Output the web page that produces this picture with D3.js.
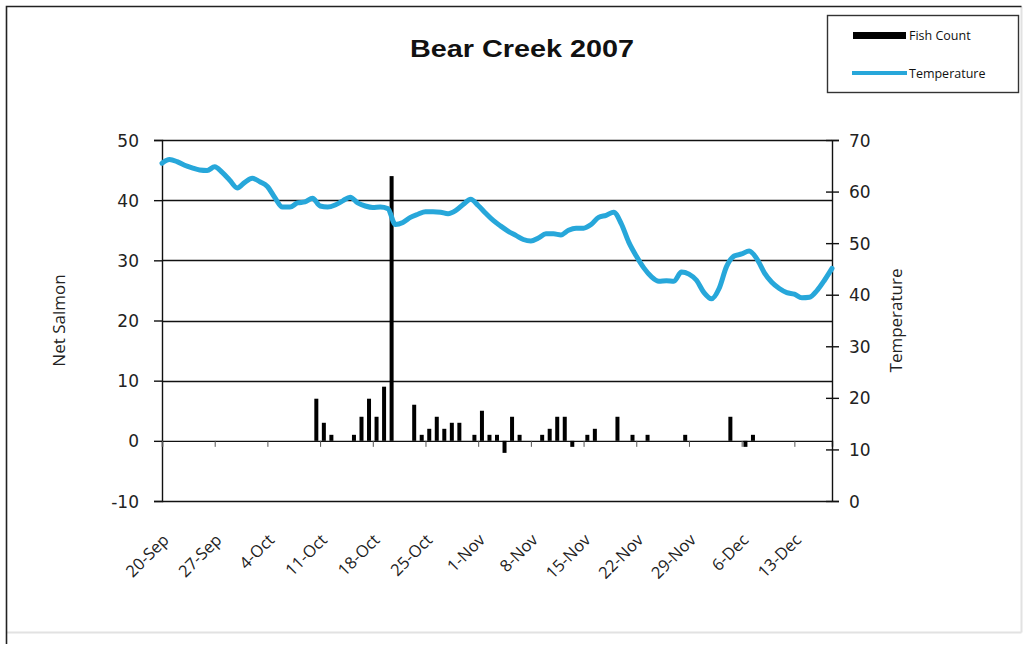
<!DOCTYPE html>
<html>
<head>
<meta charset="utf-8">
<script src="https://cdn.jsdelivr.net/npm/d3@7"></script>
<style>
  html, body { margin: 0; padding: 0; background: #fff; }
  svg { display: block; }
  text { font-family: "DejaVu Sans", Verdana, sans-serif; fill: #222; }
</style>
</head>
<body>
<svg id="chart" width="1026" height="645"></svg>
<script>
// Bear Creek 2007: daily net salmon count (columns) and water temperature (line)
const startDate = "2007-09-20";
const endDate = "2007-12-18";

// Net fish count by date (days without an entry are zero)
const countDates = [
  "2007-10-10", "2007-10-11", "2007-10-12", "2007-10-15", "2007-10-16", "2007-10-17",
  "2007-10-18", "2007-10-19", "2007-10-20", "2007-10-23", "2007-10-24", "2007-10-25",
  "2007-10-26", "2007-10-27", "2007-10-28", "2007-10-29", "2007-10-31", "2007-11-01",
  "2007-11-02", "2007-11-03", "2007-11-04", "2007-11-05", "2007-11-06", "2007-11-09",
  "2007-11-10", "2007-11-11", "2007-11-12", "2007-11-13", "2007-11-15", "2007-11-16",
  "2007-11-19", "2007-11-21", "2007-11-23", "2007-11-28", "2007-12-04", "2007-12-06",
  "2007-12-07"
];
const fishCount = [
  7, 3, 1, 1, 4, 7,
  4, 9, 44, 6, 1, 2,
  4, 2, 3, 3, 1, 5,
  1, 1, -2, 4, 1, 1,
  2, 4, 4, -1, 1, 2,
  4, 1, 1, 1, 4, -1,
  1
];

// Daily mean water temperature, one value per day from startDate
const temperature = [
  65.5, 66.2, 65.8, 65.1, 64.6, 64.2, 64.1, 64.8, 63.7, 62.2,
  60.7, 61.8, 62.6, 61.9, 61.0, 58.8, 57.0, 57.0, 57.8, 58.0,
  58.7, 57.2, 57.0, 57.4, 58.2, 58.9, 57.8, 57.2, 56.9, 57.0,
  56.7, 53.6, 54.0, 55.0, 55.6, 56.1, 56.1, 56.0, 55.7, 56.3,
  57.5, 58.5, 57.3, 55.8, 54.4, 53.3, 52.3, 51.5, 50.7, 50.4,
  51.0, 51.8, 51.8, 51.6, 52.5, 52.9, 52.9, 53.6, 55.0, 55.4,
  56.0, 53.8, 50.2, 47.5, 45.2, 43.5, 42.6, 42.7, 42.6, 44.4,
  44.0, 42.8, 40.4, 39.2, 41.2, 45.5, 47.5, 47.9, 48.5, 47.0,
  44.3, 42.4, 41.2, 40.4, 40.1, 39.4, 39.5, 40.8, 42.8, 45.1
];

const leftTicks = [-10, 0, 10, 20, 30, 40, 50];
const rightTicks = [0, 10, 20, 30, 40, 50, 60, 70];
const dateTickLabels = ["20-Sep", "27-Sep", "4-Oct", "11-Oct", "18-Oct", "25-Oct", "1-Nov",
  "8-Nov", "15-Nov", "22-Nov", "29-Nov", "6-Dec", "13-Dec"];

const titleText = "Bear Creek 2007";
const leftLabel = "Net Salmon";
const rightLabel = "Temperature";
const legendLabels = ["Fish Count", "Temperature"];

// ---------------------------------------------------------------------------
const parse = d3.utcParse("%Y-%m-%d");
const t0 = parse(startDate), t1 = parse(endDate);

const plot = { left: 162, right: 832, top: 140, bottom: 501 };
const lineColor = "#27a7da";
const labelFont = "'Open Sans', 'DejaVu Sans', sans-serif";

const svg = d3.select("#chart");

const x = d3.scaleUtc().domain([t0, t1]).range([plot.left, plot.right]);
const yL = d3.scaleLinear().domain([-10, 50]).range([plot.bottom, plot.top]);
const yR = d3.scaleLinear().domain([0, 70]).range([plot.bottom, plot.top]);
const dayW = x(d3.utcDay.offset(t0, 1)) - x(t0);

// chart frame
svg.append("rect").attr("x", 0).attr("y", 0).attr("width", 1026).attr("height", 645).attr("fill", "#fff");
svg.append("path").attr("d", "M1021.5,632.5 V6.5")
  .attr("fill", "none").attr("stroke", "#e2e2e2").attr("stroke-width", 2);
svg.append("line").attr("x1", 6.5).attr("x2", 1021.5).attr("y1", 632.5).attr("y2", 632.5)
  .attr("stroke", "#e2e2e2").attr("stroke-width", 2);
svg.append("path").attr("d", "M6.5,644 V6.5 H1021.5")
  .attr("fill", "none").attr("stroke", "#222").attr("stroke-width", 1.6);

// title
svg.append("text").attr("transform", "translate(522,57) scale(1.2,1)").attr("text-anchor", "middle")
  .style("font-family", "'Liberation Sans', Arial, sans-serif")
  .style("font-weight", "bold").style("font-size", "24px").style("fill", "#111")
  .text(titleText);

// horizontal gridlines on the left scale
svg.append("g").selectAll("line").data(leftTicks.filter(v => v !== 0)).join("line")
  .attr("x1", plot.left).attr("x2", plot.right)
  .attr("y1", d => Math.round(yL(d)) + 0.5).attr("y2", d => Math.round(yL(d)) + 0.5)
  .attr("stroke", "#111").attr("stroke-width", 1.4);

// left axis
const gL = svg.append("g").attr("transform", `translate(${plot.left},0)`)
  .call(d3.axisLeft(yL).tickValues(leftTicks).tickFormat(d => String(d)).tickSize(8).tickPadding(15));
gL.select(".domain").attr("stroke", "#111").attr("stroke-width", 1.4);
gL.selectAll(".tick line").attr("stroke", "#111").attr("stroke-width", 1.4);
gL.selectAll("text").style("font-size", "17px").style("fill", "#222")
  .style("font-family", "'DejaVu Sans', sans-serif").attr("dy", "0.36em");

// right axis
const gR = svg.append("g").attr("transform", `translate(${plot.right},0)`)
  .call(d3.axisRight(yR).tickValues(rightTicks).tickFormat(d => String(d)).tickSize(7).tickPadding(10));
gR.select(".domain").attr("stroke", "#111").attr("stroke-width", 1.4);
gR.selectAll(".tick line").attr("x1", -6).attr("stroke", "#111").attr("stroke-width", 1.4);
gR.selectAll("text").style("font-size", "17px").style("fill", "#222")
  .style("font-family", "'DejaVu Sans', sans-serif").attr("dy", "0.36em");

// axis titles
svg.append("text").attr("transform", `translate(65,${(plot.top + plot.bottom) / 2}) rotate(-90)`)
  .attr("text-anchor", "middle").style("font-size", "17px").style("fill", "#222")
  .style("font-family", labelFont).text(leftLabel);
svg.append("text").attr("transform", `translate(902,${(plot.top + plot.bottom) / 2}) rotate(-90)`)
  .attr("text-anchor", "middle").style("font-size", "17px").style("fill", "#222")
  .style("font-family", labelFont).text(rightLabel);

// date axis along zero
const tickDates = dateTickLabels.map((_, i) => d3.utcDay.offset(t0, i * 7));
const gX = svg.append("g").attr("transform", `translate(0,${yL(0)})`)
  .call(d3.axisBottom(x).tickValues(tickDates).tickSize(6));
gX.select(".domain").attr("stroke", "#111").attr("stroke-width", 1.4);
gX.selectAll(".tick line").attr("stroke", "#555").attr("stroke-width", 1);
gX.selectAll("text").remove();

// rotated date labels below the plot
svg.append("g").selectAll("text").data(tickDates).join("text")
  .attr("transform", d => `translate(${x(d) + 8},${plot.bottom + 40}) rotate(-45)`)
  .attr("text-anchor", "end")
  .style("font-size", "16.5px").style("fill", "#222")
  .style("font-family", labelFont)
  .text((d, i) => dateTickLabels[i]);

// fish count columns, centred in their day
const counts = countDates.map((d, i) => ({ date: parse(d), value: fishCount[i] }));
const barW = 4;
svg.append("g").selectAll("rect").data(counts).join("rect")
  .attr("x", d => x(d.date) + dayW / 2 - barW / 2)
  .attr("width", barW)
  .attr("y", d => yL(Math.max(0, d.value)))
  .attr("height", d => Math.abs(yL(d.value) - yL(0)))
  .attr("fill", "#000");

// temperature line
const temps = temperature.map((v, i) => ({ date: d3.utcDay.offset(t0, i), value: v }));
const line = d3.line().x(d => x(d.date)).y(d => yR(d.value)).curve(d3.curveMonotoneX);
svg.append("path").datum(temps).attr("d", line)
  .attr("fill", "none").attr("stroke", lineColor).attr("stroke-width", 5)
  .attr("stroke-linejoin", "round").attr("stroke-linecap", "round");

// legend
const lg = svg.append("g");
lg.append("rect").attr("x", 827.5).attr("y", 15.5).attr("width", 191).attr("height", 77)
  .attr("fill", "#fff").attr("stroke", "#333").attr("stroke-width", 1.4);
lg.append("rect").attr("x", 853).attr("y", 32).attr("width", 53).attr("height", 7).attr("fill", "#000");
lg.append("line").attr("x1", 852).attr("x2", 907).attr("y1", 73).attr("y2", 73)
  .attr("stroke", lineColor).attr("stroke-width", 4);
lg.selectAll("text.lab").data(legendLabels).join("text").attr("class", "lab")
  .attr("x", 909).attr("y", (d, i) => [36, 74][i]).attr("dy", "0.35em")
  .style("font-size", "12.5px").style("fill", "#111")
  .style("font-family", labelFont)
  .text(d => d);
</script>
</body>
</html>
